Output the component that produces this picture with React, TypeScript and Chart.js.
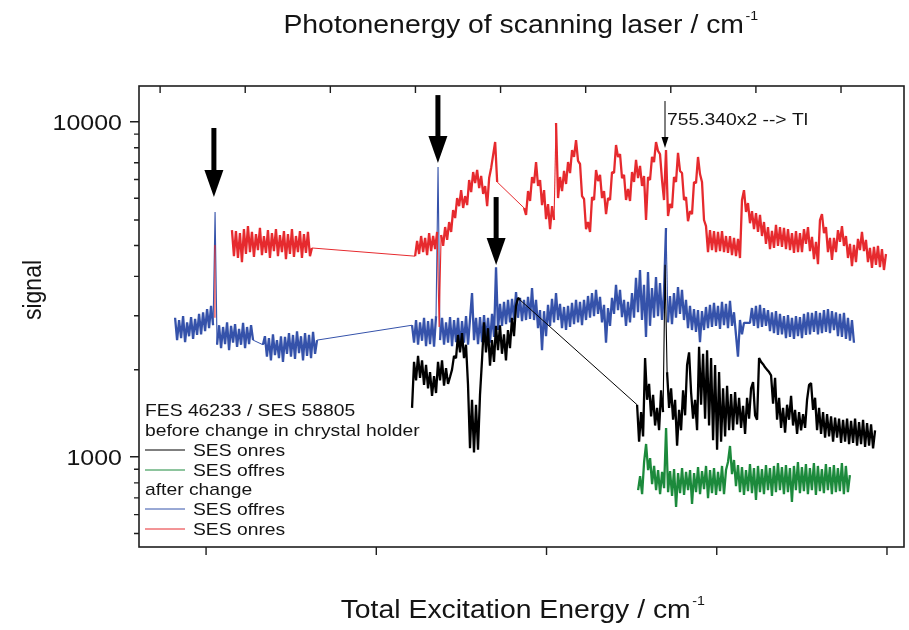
import React, { useEffect, useRef } from 'react';
import { Chart, registerables } from 'chart.js';

Chart.register(...registerables);

// ---------- axes ----------
const xMin = 104803;
const xMax = 107050;
const bottomTicks = [105000, 105500, 106000, 106500, 107000];
const topTicks = [104865, 105115, 105365, 105615, 105865, 106115, 106365, 106615, 106865];
const yMin = 538;
const yMax = 12785;
const yMajorTicks = [1000, 10000];
const yTickLabels = ['1000', '10000'];
const yMinorTicks = [590, 672, 754, 836, 918, 1818, 2636, 3455, 4273, 5091, 5909, 6727, 7545, 8364, 9182];

// ---------- SES onres after change (red) ----------
const redSpikeX = [105026, 105026];
const redSpikeY = [2600, 4290, 2600];
const redAX = [105076, 105311];
const redAY = [4750, 3970, 4720, 3920, 4650, 3810, 4780, 4030, 4880, 4080, 4690, 3950, 4620, 4140, 4820, 4000, 4560, 4060, 4750, 3920, 4650, 4110, 4780, 3970, 4590, 4080, 4720, 3890, 4620, 4030, 4780, 3950, 4560, 4080, 4720, 3920, 4620, 4060, 4690, 3970, 4200];
const redBX = [105614, 105855];
const redBY = [3970, 4410, 4030, 4560, 4080, 4500, 4000, 4650, 4110, 4560, 4170, 4690, 2440, 4590, 4260, 4850, 4440, 5020, 4690, 5450, 5160, 5920, 5600, 6250, 5530, 6000, 5640, 6700, 6170, 7080, 6560, 7180, 6340, 6890, 6090, 6430, 5600, 6790, 7280, 7960, 8700, 6610];
const redCX = [105934, 106997];
const redCY = [
  5530, 5270, 6210, 5800, 6840, 6560, 7580, 6430, 6700, 5640,
  6250, 5120, 5680, 4780, 5600, 5090, 9910, 5920, 6840, 6210,
  7130, 6520, 7580, 7030, 8230, 7850, 8820, 7640, 7480, 6000,
  5880, 4780, 5020, 4690, 5960, 5840, 7180, 6650, 6940, 5920,
  6210, 5300, 5920, 5840, 7080, 7030, 8520, 7850, 8010, 6790,
  6940, 5840, 6300, 5800, 7080, 6610, 7690, 6790, 7380, 6430,
  6890, 5090, 6840, 6700, 7850, 7580, 8700, 8180, 8010, 6700,
  5840, 8230, 5230, 5680, 5530, 6840, 6610, 8070, 7130, 7030,
  5840, 5960, 5050, 5410, 5300, 6610, 6560, 7850, 6980, 6610,
  5090, 4880, 4080, 4750, 4140, 4720, 4080, 4690, 4110, 4720,
  4080, 4560, 4060, 4560, 4000, 4500, 3970, 4470, 3920, 5840,
  6250, 5380, 5720, 4980, 5410, 4780, 5340, 4690, 5270, 4560,
  5020, 4320, 4850, 4170, 4720, 4200, 4920, 4260, 4850, 4230,
  4820, 4170, 4780, 4140, 4650, 4060, 4720, 4080, 4650, 4080,
  4780, 4320, 4850, 4110, 4530, 3890, 4380, 3760, 5090, 5300,
  4650, 4850, 4080, 4500, 3870, 4500, 4080, 4750, 4380, 4880,
  4260, 4560, 3920, 4320, 3710, 4290, 3810, 4470, 4140, 4690,
  4110, 4440, 3810, 4200, 3660, 4230, 3740, 4260, 3680, 4170,
  3610, 4030,
];

// ---------- SES offres after change (blue) ----------
const blueAX = [104909, 105138];
const blueAY = [2600, 2230, 2560, 2260, 2630, 2200, 2520, 2290, 2610, 2250, 2580, 2310, 2670, 2320, 2700, 2370, 2760, 2420, 2820, 2470, 5380, 2160, 2470, 2110, 2440, 2170, 2520, 2080, 2460, 2190, 2490, 2130, 2410, 2160, 2510, 2110, 2440, 2170, 2470, 2230];
const blueBX = [105167, 105326];
const blueBY = [2160, 2290, 1990, 2260, 1940, 2320, 2010, 2230, 1970, 2290, 1920, 2280, 2030, 2340, 1990, 2310, 1960, 2370, 2040, 2290, 1940, 2340, 2000, 2310, 1970, 2360, 2030, 2230];
const blueCX = [105605, 106903];
const blueCY = [
  2470, 2190, 2560, 2160, 2520, 2220, 2600, 2140, 2540, 2170,
  2580, 2130, 2630, 7330, 2230, 2600, 2160, 2520, 2190, 2610,
  2140, 2560, 2200, 2600, 2110, 2540, 2190, 2630, 2160, 2580,
  3080, 2230, 2600, 2170, 2610, 2200, 2650, 2230, 2600, 2190,
  2670, 2280, 3680, 2390, 2860, 2460, 2900, 2490, 2940, 2520,
  2960, 2560, 3100, 2600, 2980, 2540, 2940, 2560, 3000, 2580,
  3190, 2560, 2940, 2420, 2740, 2080, 2720, 2290, 2840, 2460,
  2960, 2520, 3080, 2560, 2860, 2420, 2800, 2390, 2820, 2440,
  2880, 2490, 2940, 2520, 2900, 2470, 2940, 2560, 3020, 2600,
  3080, 2630, 3150, 2670, 3000, 2520, 2840, 2190, 2780, 2460,
  2980, 2670, 3260, 2740, 3150, 2610, 2940, 2460, 2900, 2520,
  3080, 2600, 3420, 2700, 3610, 2560, 3260, 2280, 3560, 2460,
  3190, 2600, 3440, 2630, 3300, 2560, 3100, 4820, 2520, 3020,
  2490, 3080, 2600, 3210, 2670, 3150, 2560, 2940, 2420, 2820,
  2390, 2760, 2360, 2740, 2200, 2720, 2390, 2800, 2420, 2840,
  2440, 2880, 2460, 2820, 2410, 2900, 2470, 2860, 2420, 2920,
  2460, 2700, 2310, 1990, 2560, 2320, 2510, 2510, 2510, 2510,
  2780, 2460, 2820, 2420, 2840, 2440, 2780, 2460, 2740, 2370,
  2700, 2340, 2720, 2310, 2670, 2320, 2630, 2260, 2650, 2280,
  2600, 2250, 2630, 2290, 2610, 2260, 2670, 2310, 2700, 2320,
  2690, 2360, 2720, 2320, 2690, 2340, 2740, 2360, 2760, 2340,
  2720, 2390, 2700, 2290, 2670, 2280, 2690, 2250, 2600, 2220,
  2560, 2190,
];

// ---------- SES onres before change (black) ----------
const blackAX = [105605, 105922];
const blackAY = [
  1400, 1920, 1690, 2000, 1720, 1940, 1640, 1880, 1600, 1790,
  1520, 1740, 1550, 1920, 1690, 1940, 1630, 1840, 1650, 1730,
  1820, 2000, 1970, 2310, 2050, 2340, 1970, 2160, 1640, 1060,
  1480, 1030, 1430, 1050, 1530, 1940, 2520, 2050, 2420, 1870,
  2230, 1920, 2460, 2080, 2470, 2030, 2320, 1940, 2390, 2110,
  2600, 2290, 2820, 2980, 2940,
];
const blackBX = [106266, 106965];
const blackBY = [
  1430, 1110, 1360, 1150, 1970, 1480, 1650, 1320, 1530, 1240,
  1400, 1200, 1580, 1360, 3740, 1790, 1400, 1600, 1290, 1480,
  1080, 1380, 1200, 1580, 1330, 1880, 2050, 1560, 1300, 1480,
  1200, 2130, 1430, 2030, 1300, 2080, 1240, 1970, 1120, 1880,
  1050, 1790, 1110, 1600, 1150, 1630, 1200, 1540, 1200, 1560,
  1250, 1500, 1220, 1420, 1170, 1500, 1300, 1600, 1670, 1330,
  1290, 1970, 1920, 1890, 1850, 1820, 1790, 1750, 1440, 1720,
  1290, 1500, 1220, 1400, 1180, 1430, 1290, 1520, 1240, 1380,
  1170, 1360, 1200, 1340, 1220, 1480, 1640, 1660, 1380, 1500,
  1200, 1400, 1170, 1360, 1140, 1340, 1150, 1320, 1110, 1310,
  1140, 1300, 1100, 1290, 1110, 1300, 1090, 1280, 1100, 1300,
  1080, 1270, 1090, 1290, 1070, 1260, 1080, 1250, 1060, 1200,
];

// ---------- SES offres before change (green) ----------
const greenX = [106269, 106891];
const greenY = [
  795, 876, 774, 965, 1092, 913, 991, 829, 939, 795,
  913, 774, 901, 806, 1219, 784, 907, 764, 919, 708,
  894, 779, 926, 769, 901, 795, 913, 723, 894, 784,
  932, 774, 907, 801, 939, 753, 913, 779, 926, 769,
  901, 790, 939, 774, 913, 965, 1077, 888, 978, 817,
  945, 784, 932, 769, 913, 790, 951, 779, 926, 743,
  939, 784, 919, 774, 945, 795, 926, 764, 939, 784,
  958, 795, 932, 774, 945, 784, 926, 733, 939, 795,
  965, 779, 932, 790, 951, 774, 926, 795, 958, 769,
  939, 790, 919, 779, 951, 795, 932, 774, 945, 784,
  926, 790, 958, 774, 939, 784, 882,
];

// ---------- annotations ----------
const arrowX = [105023, 105681, 105852];
const arrowTopY = [9580, 12010, 5960];
const arrowTipY = [5960, 7530, 3735];
const tlX = 106348;
const tlTopY = 11530;
const tlTipY = 8350;
const tlLabel = '755.340x2 --> Tl';

const titleText = 'Photonenergy of scanning laser / cm';
const xTitleText = 'Total Excitation Energy / cm';
const yTitleText = 'signal';
const legendHeader = ['FES 46233 / SES 58805', 'before change in chrystal holder'];
const legendMid = 'after change';

const RED = '#e62a2e';
const BLUE = '#3552aa';
const BLACK = '#000000';
const GREEN = '#1c8a3c';
const INK = '#141414';
const FONT = '"Liberation Sans", Arial, Helvetica, sans-serif';
const SX = 1.135;

function seg(xr: number[], ys: number[]) {
  const n = ys.length;
  return ys.map((y, i) => ({ x: xr[0] + (n > 1 ? ((xr[1] - xr[0]) * i) / (n - 1) : 0), y }));
}

function txt(ctx: CanvasRenderingContext2D, s: string, x: number, y: number, size: number, align: CanvasTextAlign = 'left') {
  ctx.save();
  ctx.font = `${size}px ${FONT}`;
  ctx.textAlign = align;
  ctx.textBaseline = 'alphabetic';
  ctx.fillStyle = INK;
  ctx.translate(x, y);
  ctx.scale(SX, 1);
  ctx.fillText(s, 0, 0);
  const w = ctx.measureText(s).width * SX;
  ctx.restore();
  return w;
}

function textWidth(ctx: CanvasRenderingContext2D, s: string, size: number) {
  ctx.save();
  ctx.font = `${size}px ${FONT}`;
  const w = ctx.measureText(s).width * SX;
  ctx.restore();
  return w;
}

function withUnit(ctx: CanvasRenderingContext2D, s: string, cx: number, y: number, size: number) {
  const w = textWidth(ctx, s, size);
  const sw = textWidth(ctx, '-1', size * 0.5);
  const left = cx - (w + sw + 2) / 2;
  txt(ctx, s, left, y, size);
  txt(ctx, '-1', left + w + 1.5, y - size * 0.52, size * 0.5);
}

const decorPlugin = {
  id: 'decor',
  afterDatasetsDraw(chart: any) {
    const { ctx, chartArea: a } = chart;
    const xs = chart.scales.x;
    const ys = chart.scales.y;
    ctx.save();
    // frame
    ctx.strokeStyle = '#1e1e1e';
    ctx.lineWidth = 1.6;
    ctx.strokeRect(a.left, a.top, a.right - a.left, a.bottom - a.top);
    // ticks
    ctx.lineWidth = 1.4;
    ctx.beginPath();
    bottomTicks.forEach((v) => {
      const x = xs.getPixelForValue(v);
      ctx.moveTo(x, a.bottom);
      ctx.lineTo(x, a.bottom + 8);
    });
    topTicks.forEach((v) => {
      const x = xs.getPixelForValue(v);
      ctx.moveTo(x, a.top);
      ctx.lineTo(x, a.top + 7);
    });
    yMajorTicks.forEach((v) => {
      const y = ys.getPixelForValue(v);
      ctx.moveTo(a.left, y);
      ctx.lineTo(a.left - 9, y);
    });
    yMinorTicks.forEach((v) => {
      const y = ys.getPixelForValue(v);
      ctx.moveTo(a.left, y);
      ctx.lineTo(a.left - 5, y);
    });
    ctx.stroke();

    // big arrows
    ctx.fillStyle = '#000';
    arrowX.forEach((xv, i) => {
      const x = xs.getPixelForValue(xv);
      const yt = ys.getPixelForValue(arrowTopY[i]);
      const yb = ys.getPixelForValue(arrowTipY[i]);
      const hh = 27;
      ctx.fillRect(x - 2.5, yt, 5, yb - hh - yt + 1);
      ctx.beginPath();
      ctx.moveTo(x - 9.5, yb - hh);
      ctx.lineTo(x + 9.5, yb - hh);
      ctx.lineTo(x, yb);
      ctx.closePath();
      ctx.fill();
    });

    // Tl marker arrow
    const tx = xs.getPixelForValue(tlX);
    const tt = ys.getPixelForValue(tlTopY);
    const tb = ys.getPixelForValue(tlTipY);
    ctx.strokeStyle = '#000';
    ctx.lineWidth = 1;
    ctx.beginPath();
    ctx.moveTo(tx, tt);
    ctx.lineTo(tx, tb - 8);
    ctx.stroke();
    ctx.beginPath();
    ctx.moveTo(tx - 3.5, tb - 11);
    ctx.lineTo(tx + 3.5, tb - 11);
    ctx.lineTo(tx, tb);
    ctx.closePath();
    ctx.fill();
    txt(ctx, tlLabel, tx + 2, tt + 24, 17);

    // y tick labels
    yMajorTicks.forEach((v, i) => {
      const y = ys.getPixelForValue(v);
      txt(ctx, yTickLabels[i], a.left - 17, y + 8, 22, 'right');
    });

    // titles
    withUnit(ctx, titleText, 521, 33, 25);
    withUnit(ctx, xTitleText, 523, 618, 25);
    ctx.save();
    ctx.translate(41, 290);
    ctx.rotate(-Math.PI / 2);
    ctx.scale(1, SX);
    ctx.font = `23px ${FONT}`;
    ctx.textAlign = 'center';
    ctx.fillStyle = INK;
    ctx.fillText(yTitleText, 0, 0);
    ctx.restore();

    // legend
    const lx = 145;
    const fs = 17;
    txt(ctx, legendHeader[0], lx, 416, fs);
    txt(ctx, legendHeader[1], lx, 436, fs);
    const entries = [
      { c: BLACK, t: 'SES onres', y: 456 },
      { c: GREEN, t: 'SES offres', y: 476 },
      { c: BLUE, t: 'SES offres', y: 515 },
      { c: RED, t: 'SES onres', y: 535 },
    ];
    txt(ctx, legendMid, lx, 495, fs);
    entries.forEach((e) => {
      ctx.strokeStyle = e.c;
      ctx.lineWidth = 1;
      ctx.beginPath();
      ctx.moveTo(lx, e.y - 6);
      ctx.lineTo(lx + 40, e.y - 6);
      ctx.stroke();
      txt(ctx, e.t, lx + 48, e.y, fs);
    });
    ctx.restore();
  },
};

// thin lines for connections between scans and for the narrow calibration spikes,
// thicker strokes for the dense noisy scans
const segWidth = (c: any) => {
  const dx = Math.abs(c.p1.parsed.x - c.p0.parsed.x);
  const dyPx = Math.abs(c.p1.y - c.p0.y);
  if (dx > 15) return 1;
  if (dx === 0 || dyPx > 88) return 1.1;
  return 2.3;
};

export default function App() {
  const ref = useRef<HTMLCanvasElement | null>(null);
  useEffect(() => {
    if (!ref.current) return;
    const red = [...seg(redSpikeX, redSpikeY), { x: 105050, y: null }, ...seg(redAX, redAY), ...seg(redBX, redBY), ...seg(redCX, redCY)];
    const blue = [...seg(blueAX, blueAY), ...seg(blueBX, blueBY), ...seg(blueCX, blueCY)];
    const black = [...seg(blackAX, blackAY), ...seg(blackBX, blackBY)];
    const green = seg(greenX, greenY);
    const common = {
      pointRadius: 0,
      borderWidth: 2.3,
      tension: 0,
      spanGaps: false,
      fill: false,
      borderJoinStyle: 'bevel' as const,
      segment: { borderWidth: segWidth },
    };
    const chart = new Chart(ref.current, {
      type: 'line',
      data: {
        datasets: [
          { label: 'SES onres (before)', data: black, borderColor: BLACK, order: 0, ...common },
          { label: 'SES onres (after)', data: red as any, borderColor: RED, order: 1, ...common },
          { label: 'SES offres (before)', data: green, borderColor: GREEN, order: 2, ...common },
          { label: 'SES offres (after)', data: blue, borderColor: BLUE, order: 3, ...common },
        ],
      },
      options: {
        responsive: false,
        animation: false,
        events: [],
        layout: { padding: { left: 139, top: 86, right: 5, bottom: 83 } },
        plugins: { legend: { display: false }, tooltip: { enabled: false }, title: { display: false } },
        scales: {
          x: { type: 'linear', min: xMin, max: xMax, display: false },
          y: { type: 'logarithmic', min: yMin, max: yMax, display: false },
        },
      },
      plugins: [decorPlugin],
    });
    return () => chart.destroy();
  }, []);
  return (
    <div style={{ position: 'fixed', left: 0, top: 0, width: 909, height: 630, background: '#fff' }}>
      <canvas ref={ref} width={909} height={630} style={{ display: 'block' }} />
    </div>
  );
}
